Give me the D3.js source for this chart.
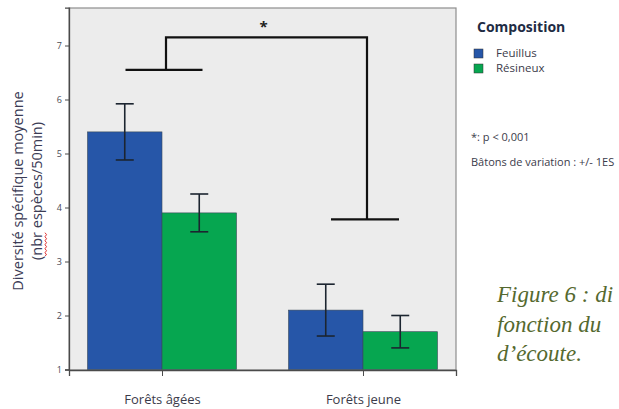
<!DOCTYPE html>
<html>
<head>
<meta charset="utf-8">
<script src="https://cdn.jsdelivr.net/npm/d3@7/dist/d3.min.js"></script>
<style>
  html, body { margin: 0; padding: 0; background: #ffffff; }
  svg { display: block; }
</style>
</head>
<body>
<svg id="chart" width="619" height="409"></svg>
<script>
// Mean species diversity per 50-min listening point, by forest age and composition
const categories = ["Forêts âgées", "Forêts jeune"];
const seriesNames = ["Feuillus", "Résineux"];
const feuillusMean = [5.4, 2.1];
const resineuxMean = [3.9, 1.7];
const feuillusSE = [0.52, 0.48];
const resineuxSE = [0.35, 0.30];
const yTicks = [1, 2, 3, 4, 5, 6, 7];
// significance bracket: level above each group, then the joining bar
const bracketBase = [6.55, 3.78];
const bracketTop = 7.15;
const sigLabel = "*";
const legendTitle = "Composition";
const notes = ["*: p < 0,001", "Bâtons de variation : +/- 1ES"];
const yTitle = ["Diversité spécifique moyenne", "(nbr espèces/50min)"];
const caption = ["Figure 6 : di", "fonction du", "d’écoute."];

const colors = { "Feuillus": "#2656a8", "Résineux": "#06a650" };
const font = "'Open Sans', Lato, sans-serif";

const svg = d3.select("#chart");
const plot = { left: 69, top: 8, right: 456, bottom: 370 };

const y = d3.scaleLinear().domain([1, 7.7]).range([369.5, 7.7]);
const x = d3.scalePoint().domain(categories).range([plot.left, plot.right]).padding(0.4627);
const inner = d3.scaleBand().domain(seriesNames).range([-74.5, 74.5]);

// plot area
svg.append("rect")
  .attr("x", plot.left).attr("y", plot.top)
  .attr("width", plot.right - plot.left).attr("height", plot.bottom - plot.top)
  .attr("fill", "#ececec").attr("stroke", "#8e8e8e").attr("stroke-width", 1.2);

// rows for bars and error bars
const rows = [];
categories.forEach((c, i) => {
  rows.push({ cat: c, s: "Feuillus", v: feuillusMean[i], se: feuillusSE[i] });
  rows.push({ cat: c, s: "Résineux", v: resineuxMean[i], se: resineuxSE[i] });
});

svg.append("g").selectAll("rect").data(rows).join("rect")
  .attr("x", d => x(d.cat) + inner(d.s))
  .attr("y", d => y(d.v))
  .attr("width", inner.bandwidth())
  .attr("height", d => y(1) - y(d.v))
  .attr("fill", d => colors[d.s])
  .attr("stroke", "#3a4a5a").attr("stroke-width", 0.6);

// error bars
const capHalf = 9;
const eb = svg.append("g").attr("stroke", "#1c2530").attr("stroke-width", 1.6).attr("fill", "none");
rows.forEach(d => {
  const cx = x(d.cat) + inner(d.s) + inner.bandwidth() / 2;
  const hi = y(d.v + d.se), lo = y(d.v - d.se);
  eb.append("line").attr("x1", cx).attr("x2", cx).attr("y1", hi).attr("y2", lo);
  eb.append("line").attr("x1", cx - capHalf).attr("x2", cx + capHalf).attr("y1", hi).attr("y2", hi);
  eb.append("line").attr("x1", cx - capHalf).attr("x2", cx + capHalf).attr("y1", lo).attr("y2", lo);
});

// axes
const yAxis = svg.append("g").attr("transform", `translate(${plot.left},0)`)
  .call(d3.axisLeft(y).tickValues(yTicks).tickSize(4).tickPadding(3).tickFormat(d3.format("d")));
const xAxis = svg.append("g").attr("transform", `translate(0,${plot.bottom})`)
  .call(d3.axisBottom(x).tickSize(6).tickPadding(19));
[yAxis, xAxis].forEach(g => {
  g.select(".domain").attr("stroke", "#4a4a4a").attr("stroke-width", 1.3);
  g.selectAll(".tick line").attr("stroke", "#4a4a4a").attr("stroke-width", 1);
});
yAxis.selectAll(".tick text").attr("font-family", font).attr("font-size", 9).attr("fill", "#4a4a55");
xAxis.selectAll(".tick text").attr("font-family", font).attr("font-size", 13).attr("fill", "#3b3b4a");

// significance bracket
const br = svg.append("g").attr("stroke", "#111").attr("stroke-width", 2.2).attr("fill", "none");
const baseHalf = [38.5, 34];
const legX = categories.map(c => x(c) + 4);
categories.forEach((c, i) => {
  const cx = x(c) + 2;
  br.append("line").attr("x1", cx - baseHalf[i]).attr("x2", cx + baseHalf[i])
    .attr("y1", y(bracketBase[i])).attr("y2", y(bracketBase[i]));
});
br.append("path").attr("d",
  `M${legX[0]},${y(bracketBase[0])} V${y(bracketTop)} H${legX[1]} V${y(bracketBase[1])}`);
svg.append("text").attr("x", (legX[0] + legX[1]) / 2 - 3).attr("y", y(bracketTop) - 5)
  .attr("text-anchor", "middle").attr("font-family", font).attr("font-weight", "bold")
  .attr("font-size", 15).attr("fill", "#222").text(sigLabel);

// y axis title (two rotated lines)
const yt = svg.append("g").attr("transform", "translate(0,191) rotate(-90)");
const line1 = yt.append("text").attr("x", 0).attr("y", 23).attr("text-anchor", "middle")
  .attr("font-family", font).attr("font-size", 14.5).attr("fill", "#3b3b55").text(yTitle[0]);
const line2 = yt.append("text").attr("x", 0).attr("y", 42).attr("text-anchor", "middle")
  .attr("font-family", font).attr("font-size", 14.5).attr("fill", "#3b3b55").text(yTitle[1]);
// spell-check squiggle under "nbr"
{
  const node = line2.node();
  const total = node.getComputedTextLength();
  const start = -total / 2 + node.getSubStringLength(0, 1);
  const w = node.getSubStringLength(1, 3);
  let d = `M${start},45`;
  for (let t = 0; t < w; t += 2) d += ` L${start + t + 1},${t % 4 === 0 ? 46.5 : 45} `;
  yt.append("path").attr("d", d).attr("fill", "none").attr("stroke", "#e03030").attr("stroke-width", 1);
}

// legend
const lg = svg.append("g");
lg.append("text").attr("x", 477).attr("y", 32).attr("font-family", font).attr("font-weight", "bold")
  .attr("font-size", 14).attr("fill", "#1e2c44").text(legendTitle);
seriesNames.forEach((s, i) => {
  lg.append("rect").attr("x", 474).attr("y", 49 + i * 15).attr("width", 9).attr("height", 9)
    .attr("fill", colors[s]).attr("stroke", "#333").attr("stroke-width", 0.5);
  lg.append("text").attr("x", 496).attr("y", 57 + i * 15).attr("font-family", font)
    .attr("font-size", 11.5).attr("fill", "#3b3b4a").text(s);
});
notes.forEach((n, i) => {
  lg.append("text").attr("x", 471).attr("y", 141 + i * 25).attr("font-family", font)
    .attr("font-size", 11).attr("fill", "#3b3b4a").text(n);
});

// figure caption
caption.forEach((c, i) => {
  svg.append("text").attr("x", 497).attr("y", 302 + i * 29.5)
    .attr("font-family", "'Liberation Serif', 'DejaVu Serif', serif").attr("font-style", "italic")
    .attr("font-size", 23).attr("fill", "#55692f").text(c);
});
</script>
</body>
</html>
